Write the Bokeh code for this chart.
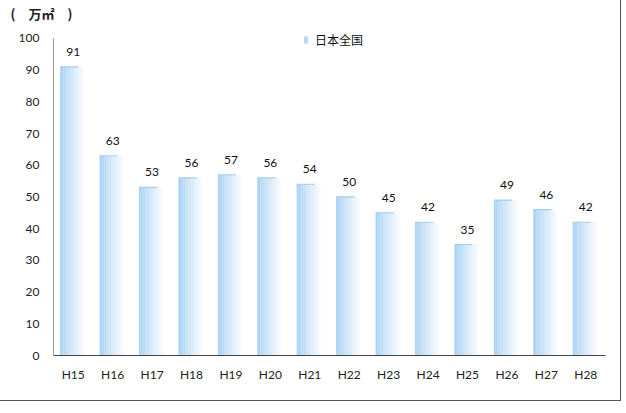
from bokeh.plotting import figure
from bokeh.models import ColumnDataSource, FixedTicker, Legend, LegendItem, Title, LabelSet
from bokeh.core.properties import value
from bokeh.transform import dodge
from bokeh.embed import file_html
from bokeh.resources import INLINE

categories = ["H15", "H16", "H17", "H18", "H19", "H20", "H21", "H22", "H23", "H24", "H25", "H26", "H27", "H28"]
values = [91, 63, 53, 56, 57, 56, 54, 50, 45, 42, 35, 49, 46, 42]
y_ticks = [0, 10, 20, 30, 40, 50, 60, 70, 80, 90, 100]
series_name = "日本全国"
unit_label = "(\u2002\u2002万㎡\u2002\u2002)"

src = ColumnDataSource(dict(cat=categories, val=values, lbl=[str(v) for v in values]))

p = figure(x_range=categories, y_range=(0, 105), width=620, height=400,
           output_backend="svg", toolbar_location=None,
           min_border_left=53, min_border_right=15, min_border_top=22, min_border_bottom=45)
p.styles = {"outline": "1px solid #555"}
p.outline_line_color = None
p.xgrid.grid_line_color = None
p.ygrid.grid_line_color = None

# gradient bars built from vertical strips
bar_w = 0.66
n = 16
c0 = (168, 210, 244)
c1 = (255, 255, 255)
for i in range(n):
    t = (i / (n - 1)) ** 0.9
    col = "#%02x%02x%02x" % tuple(int(a + (b - a) * t) for a, b in zip(c0, c1))
    off = -bar_w / 2 + (i + 0.5) * bar_w / n
    p.vbar(x=dodge("cat", off, range=p.x_range), top="val", width=bar_w / n + 0.004,
           source=src, fill_color=col, line_color=None)

# thin top edge
p.hbar(y="val", left=dodge("cat", -bar_w / 2, range=p.x_range),
       right=dodge("cat", bar_w * 0.2, range=p.x_range), height=0.35, source=src,
       fill_color="#a6cdef", line_color=None)

labels = LabelSet(x="cat", y="val", text="lbl", source=src, text_align="center",
                  text_baseline="bottom", y_offset=11, text_font_size="12px",
                  text_font=value("Lato"), text_color="#111111")
p.add_layout(labels)

# y axis line drawn only from 0 to 100
axsrc = ColumnDataSource(dict(c=[categories[0]], y0=[0], y1=[100]))
p.segment(x0=dodge("c", -0.5, range=p.x_range), x1=dodge("c", -0.5, range=p.x_range),
          y0="y0", y1="y1", source=axsrc, line_color="#333333", line_width=1)

# legend
leg_r = p.vbar(x=[categories[0]], top=[0], width=0.01, fill_color="#b5d8f5", line_color=None)
legend = Legend(items=[LegendItem(label=series_name, renderers=[leg_r])],
                location=(250, 307), orientation="horizontal", padding=0, margin=0,
                spacing=0, glyph_width=5, glyph_height=9, label_height=12,
                label_standoff=7, border_line_color=None, background_fill_alpha=0,
                label_text_font="Noto Sans CJK SC", label_text_font_size="12px",
                label_text_color="#111111")
p.add_layout(legend, "center")

t = Title(text=unit_label, align="left", text_font="Noto Sans CJK SC",
          text_font_size="13px", text_font_style="bold", text_color="#222222",
          offset=-43, standoff=0)
p.add_layout(t, "above")

p.yaxis.ticker = FixedTicker(ticks=y_ticks)
p.yaxis.major_tick_line_color = None
p.yaxis.minor_tick_line_color = None
p.yaxis.axis_line_color = None
p.yaxis.major_label_standoff = 8
p.yaxis.major_label_text_font = "Lato"
p.yaxis.major_label_text_font_size = "12px"
p.yaxis.major_label_text_color = "#222222"

p.xaxis.major_tick_line_color = None
p.xaxis.axis_line_color = "#444444"
p.xaxis.major_label_standoff = 5
p.xaxis.major_label_text_font = "Lato"
p.xaxis.major_label_text_font_size = "12px"
p.xaxis.major_label_text_color = "#222222"
p.x_range.range_padding = 0

open("out.html", "w").write(file_html(p, INLINE))
